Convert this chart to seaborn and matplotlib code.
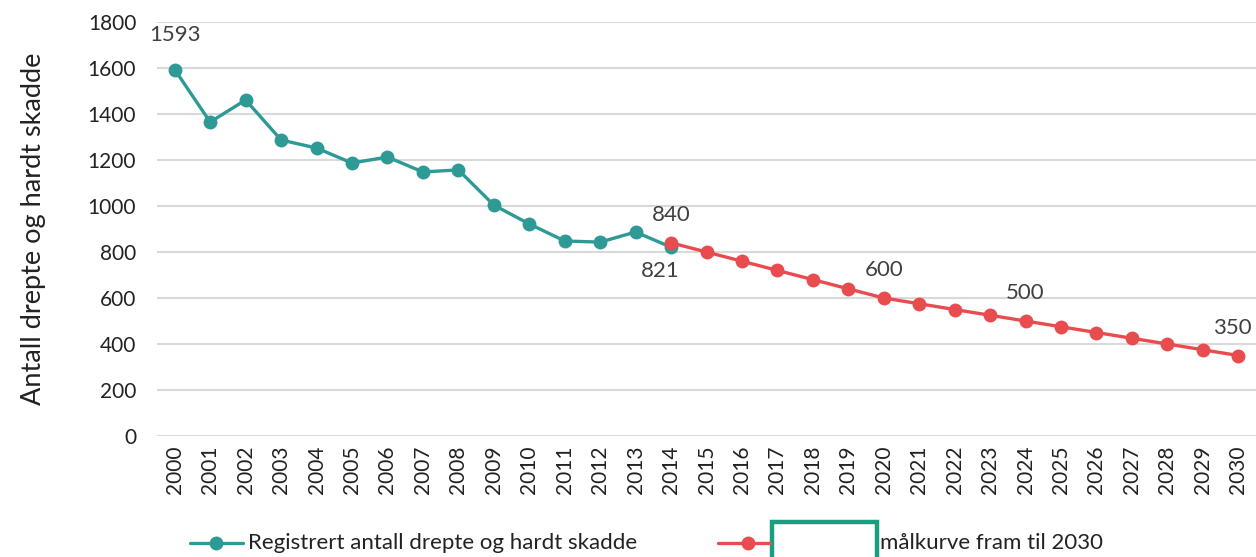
import numpy as np
import pandas as pd
import seaborn as sns
import matplotlib.pyplot as plt
from matplotlib.lines import Line2D
from matplotlib.patches import Rectangle

# data
years_reg = list(range(2000, 2015))
registrert = [1593, 1365, 1461, 1287, 1252, 1187, 1213, 1148, 1157, 1004, 922, 848, 843, 887, 821]

years_mal = list(range(2014, 2031))
malkurve = [840, 800, 760, 720, 680, 640, 600, 575, 550, 525, 500, 475, 450, 425, 400, 375, 350]

all_years = list(range(2000, 2031))
y_ticks = [0, 200, 400, 600, 800, 1000, 1200, 1400, 1600, 1800]

df_reg = pd.DataFrame({"år": years_reg, "antall": registrert})
df_mal = pd.DataFrame({"år": years_mal, "antall": malkurve})

sns.set_theme(style="white")
plt.rcParams["font.family"] = ["Lato", "DejaVu Sans"]

teal = "#2e9a96"
red = "#e84c4f"
txt = "#404040"

fig = plt.figure(figsize=(12.56, 5.57), dpi=100)
ax = fig.add_axes([0.125, 0.2172, 0.875, 0.7433])

sns.lineplot(data=df_reg, x="år", y="antall", color=teal, marker="o", markersize=10,
             markeredgewidth=0, linewidth=2.4, ax=ax, clip_on=False, zorder=3)
sns.lineplot(data=df_mal, x="år", y="antall", color=red, marker="o", markersize=10,
             markeredgewidth=0, linewidth=2.4, ax=ax, clip_on=False, zorder=4)

ax.set_xlim(1999.5, 2030.5)
ax.set_ylim(0, 1800)
ax.set_yticks(y_ticks)
ax.set_xticks(all_years)
ax.set_xticklabels([str(y) for y in all_years], rotation=90)
ax.tick_params(axis="both", labelsize=15, colors="#222222", length=0, pad=7)
ax.tick_params(axis="y", pad=15)
ax.grid(axis="y", color="#d9d9d9", linewidth=1.5)
ax.set_axisbelow(True)
for s in ax.spines.values():
    s.set_visible(False)
ax.set_xlabel("")
ax.set_ylabel("Antall drepte og hardt skadde", fontsize=19.5, color="#222222", labelpad=30)

# data labels
def label(x, y, text, dx=0, dy=20):
    ax.annotate(text, (x, y), xytext=(dx, dy), textcoords="offset points",
                ha="center", va="center", fontsize=16, color=txt, annotation_clip=False)

label(years_reg[0], registrert[0], str(registrert[0]), dy=25)
label(years_reg[-1], registrert[-1], str(registrert[-1]), dx=-8, dy=-17)
label(years_mal[0], malkurve[0], str(malkurve[0]), dy=20)
for yr in (2020, 2024):
    v = malkurve[years_mal.index(yr)]
    label(yr, v, str(v), dy=20)
label(years_mal[-1], malkurve[-1], str(malkurve[-1]), dx=-4, dy=20)

# legend
ly = 1 - 543 / 557
fig.add_artist(Line2D([190 / 1256, 243 / 1256], [ly, ly], color=teal, linewidth=2.4,
                      transform=fig.transFigure))
fig.add_artist(Line2D([216 / 1256], [ly], color=teal, marker="o", markersize=10,
                      markeredgewidth=0, transform=fig.transFigure))
fig.text(248 / 1256, ly, "Registrert antall drepte og hardt skadde", fontsize=16,
         color="#222222", va="center", ha="left")
fig.add_artist(Line2D([718 / 1256, 770 / 1256], [ly, ly], color=red, linewidth=2.4,
                      transform=fig.transFigure))
fig.add_artist(Line2D([748 / 1256], [ly], color=red, marker="o", markersize=10,
                      markeredgewidth=0, transform=fig.transFigure))
fig.text(880 / 1256, ly, "målkurve fram til 2030", fontsize=16,
         color="#222222", va="center", ha="left")

# green box
fig.add_artist(Rectangle((772 / 1256, -0.02), 105 / 1256, 0.02 + 1 - 522 / 557,
                         fill=False, edgecolor="#1a9e80", linewidth=3.2,
                         transform=fig.transFigure))

fig.savefig("out.png", dpi=100)
